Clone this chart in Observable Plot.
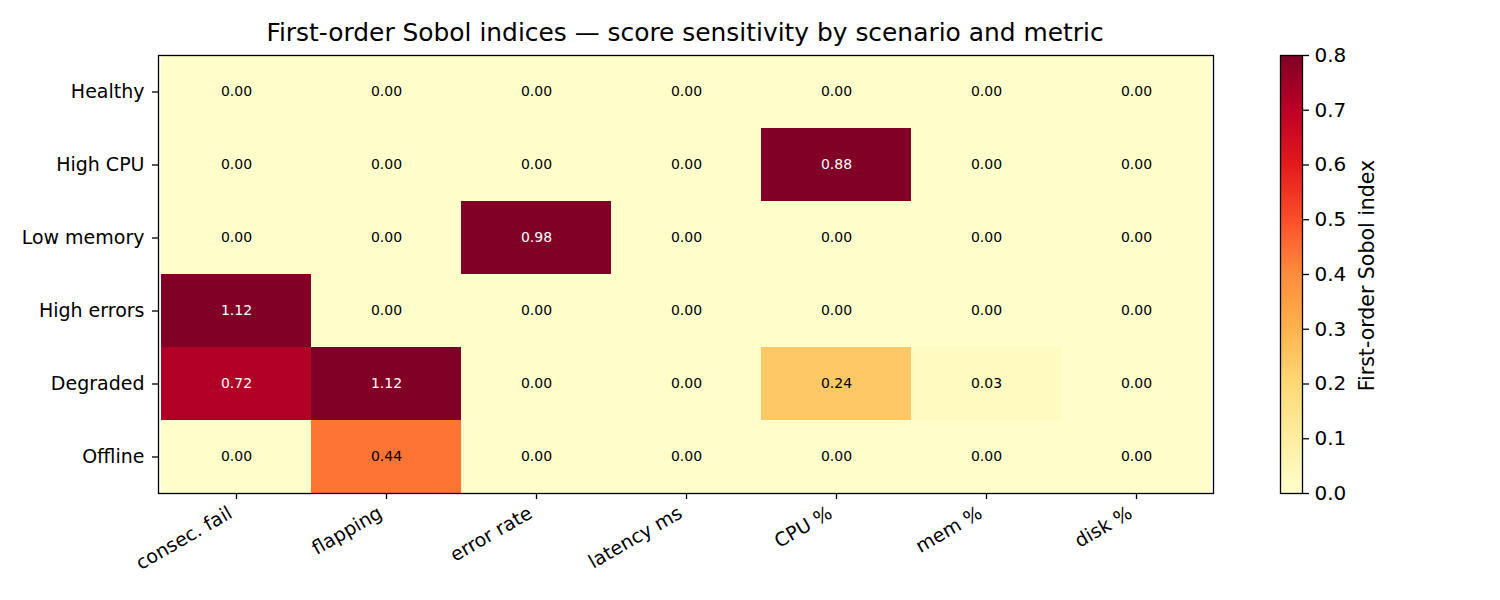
<!DOCTYPE html>
<html>
<head>
<meta charset="utf-8">
<script src="https://cdn.jsdelivr.net/npm/d3@7"></script>
<script src="https://cdn.jsdelivr.net/npm/@observablehq/plot@0.6"></script>
<style>
  html, body { margin: 0; padding: 0; background: #fff; }
  #chart { position: relative; width: 1500px; height: 600px; font-family: "DejaVu Sans", sans-serif; color: #000; }
  #title { position: absolute; left: 0; width: 1370px; top: 21px; text-align: center; font-size: 24.9px; line-height: 1; }
  #main { position: absolute; left: 0; top: 0; }
  #cbar { position: absolute; left: 1240px; top: 0; }
</style>
</head>
<body>
<div id="chart">
  <div id="title">First-order Sobol indices — score sensitivity by scenario and metric</div>
  <div id="main"></div>
  <div id="cbar"></div>
</div>
<script>
// Scenarios (rows) and metrics (columns)
const scenarios = ["Healthy", "High CPU", "Low memory", "High errors", "Degraded", "Offline"];
const metrics = ["consec. fail", "flapping", "error rate", "latency ms", "CPU %", "mem %", "disk %"];

// First-order Sobol index for each scenario, one value per metric
const healthy    = [0.00, 0.00, 0.00, 0.00, 0.00, 0.00, 0.00];
const highCpu    = [0.00, 0.00, 0.00, 0.00, 0.88, 0.00, 0.00];
const lowMemory  = [0.00, 0.00, 0.98, 0.00, 0.00, 0.00, 0.00];
const highErrors = [1.12, 0.00, 0.00, 0.00, 0.00, 0.00, 0.00];
const degraded   = [0.72, 1.12, 0.00, 0.00, 0.24, 0.03, 0.00];
const offline    = [0.00, 0.44, 0.00, 0.00, 0.00, 0.00, 0.00];

const colorTicks = [0.0, 0.1, 0.2, 0.3, 0.4, 0.5, 0.6, 0.7, 0.8];

const rows = [healthy, highCpu, lowMemory, highErrors, degraded, offline];
const cells = rows.flatMap((vals, i) =>
  vals.map((v, j) => ({scenario: scenarios[i], metric: metrics[j], value: v}))
);

// YlOrRd, piecewise-linear through the ColorBrewer stops, clamped to [0, 0.8]
const ylorrd = ["#ffffcc", "#ffeda0", "#fed976", "#feb24c", "#fd8d3c", "#fc4e2a", "#e31a1c", "#bd0026", "#800026"];
const vmax = 0.8;
const colorScale = {
  type: "linear",
  domain: ylorrd.map((_, i) => i * vmax / (ylorrd.length - 1)),
  range: ylorrd,
  interpolate: "rgb",
  clamp: true
};

const main = Plot.plot({
  width: 1240,
  height: 600,
  marginLeft: 158,
  marginRight: 27,
  marginTop: 55,
  marginBottom: 107,
  style: {fontFamily: "DejaVu Sans, sans-serif", fontSize: "19px", color: "#000", background: "transparent"},
  x: {domain: metrics, padding: 0, label: null},
  y: {domain: scenarios, padding: 0, label: null},
  color: colorScale,
  marks: [
    Plot.cell(cells, {x: "metric", y: "scenario", fill: "value", inset: 0, shapeRendering: "crispEdges"}),
    Plot.text(cells, {
      x: "metric", y: "scenario",
      text: d => d.value.toFixed(2),
      fill: d => d.value > 0.5 ? "#fff" : "#000",
      fontSize: 14
    }),
    Plot.frame({stroke: "#000", strokeWidth: 1.3}),
    Plot.axisY({tickSize: 6, tickPadding: 8, fontSize: 19, label: null, stroke: "#000", strokeWidth: 1.3}),
    // tick marks on the bottom edge
    Plot.axisX({tickSize: 6, text: null, label: null, stroke: "#000", strokeWidth: 1.3}),
    // rotated, right-aligned metric names below the ticks
    Plot.axisX({tickSize: 0, tickPadding: 18, tickRotate: -30, fontSize: 19, label: null, dx: -6})
  ]
});
document.getElementById("main").appendChild(main);

// Colour bar: thin slices across [0, vmax]
const step = 0.002;
const slices = d3.range(0, vmax, step).map(v => ({v0: v, v1: v + step}));

const cbar = Plot.plot({
  width: 260,
  height: 600,
  marginLeft: 40,
  marginRight: 198,
  marginTop: 55,
  marginBottom: 107,
  style: {fontFamily: "DejaVu Sans, sans-serif", fontSize: "20px", color: "#000", background: "transparent"},
  x: {axis: null, domain: [0, 1]},
  y: {domain: [0, vmax], label: null, axis: null},
  color: colorScale,
  marks: [
    Plot.rect(slices, {x1: 0, x2: 1, y1: "v0", y2: "v1", fill: d => (d.v0 + d.v1) / 2, shapeRendering: "crispEdges"}),
    Plot.frame({stroke: "#000", strokeWidth: 1.3}),
    Plot.axisY(colorTicks, {anchor: "right", tickSize: 6, tickPadding: 6, tickFormat: d3.format(".1f"), fontSize: 20, label: null, stroke: "#000", strokeWidth: 1.3}),
    Plot.text(["First-order Sobol index"], {frameAnchor: "right", dx: 65, dy: 1, rotate: -90, textAnchor: "middle", fontSize: 20.5, text: d => d})
  ]
});
document.getElementById("cbar").appendChild(cbar);
</script>
</body>
</html>
